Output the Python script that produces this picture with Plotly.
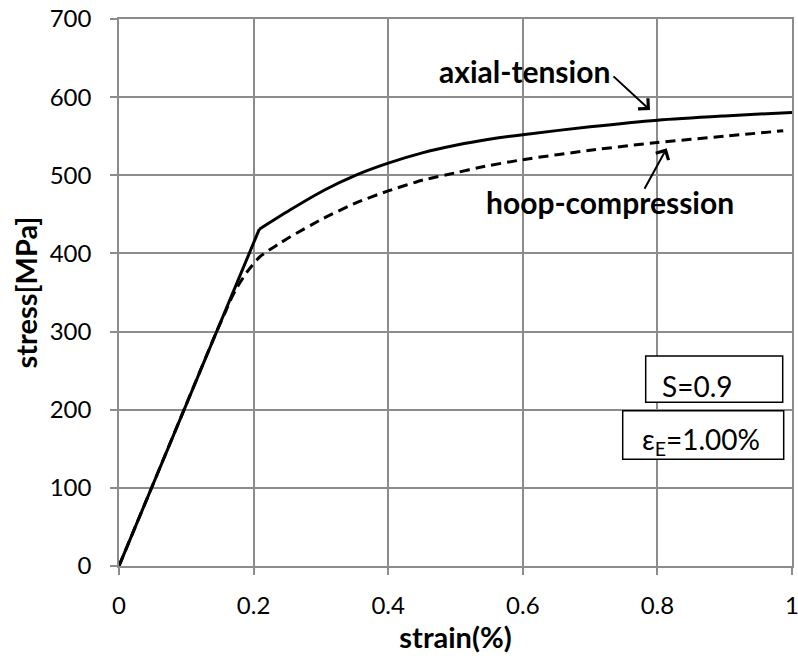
import plotly.graph_objects as go

# ---- data ----
axial_strain = [0, 0.10, 0.2085, 0.254, 0.304, 0.353, 0.40, 0.452, 0.502, 0.55, 0.60, 0.70, 0.80, 0.90, 1.00]
axial_stress = [0, 207, 431, 455.5, 480.5, 500.5, 515.5, 529, 538.7, 546, 552, 562, 570.5, 576, 580.5]
axial_knee = 2  # index of the yield point (end of the elastic part)

hoop_strain = [0, 0.10, 0.145, 0.158, 0.165, 0.175, 0.19, 0.2095, 0.239, 0.254, 0.304, 0.353, 0.40,
               0.452, 0.502, 0.535, 0.60, 0.70, 0.80, 0.90, 0.987]
hoop_stress = [0, 207, 300, 325, 339, 356, 376, 396, 413, 421, 445, 465, 480,
               494, 503.5, 510, 520, 532, 542, 550, 557]

x_ticks = [0, 0.2, 0.4, 0.6, 0.8, 1.0]
x_tick_labels = ["0", "0.2", "0.4", "0.6", "0.8", "1"]
y_ticks = [0, 100, 200, 300, 400, 500, 600, 700]
y_tick_labels = ["0", "100", "200", "300", "400", "500", "600", "700"]

FONT = "Lato"
GRID = "#8c8c8c"

fig = go.Figure()
# axial-tension: elastic part (straight) + plastic part (smooth)
fig.add_trace(go.Scatter(x=axial_strain[:axial_knee + 1], y=axial_stress[:axial_knee + 1],
                         mode="lines", line=dict(color="black", width=3),
                         name="axial-tension", showlegend=False))
fig.add_trace(go.Scatter(x=axial_strain[axial_knee:], y=axial_stress[axial_knee:],
                         mode="lines",
                         line=dict(color="black", width=3, shape="spline", smoothing=0.8),
                         name="axial-tension", showlegend=False))
fig.add_trace(go.Scatter(x=hoop_strain, y=hoop_stress, mode="lines",
                         line=dict(color="black", width=3, dash="10px,6px",
                                   shape="spline", smoothing=0.6),
                         name="hoop-compression", showlegend=False))

axis_common = dict(showgrid=True, gridcolor=GRID, gridwidth=1.5,
                   showline=True, linecolor=GRID, linewidth=1.5, mirror=True,
                   ticks="outside", ticklen=7, tickcolor=GRID, tickwidth=1.5,
                   zeroline=False, automargin=False, ticklabeloverflow="allow",
                   tickfont=dict(family=FONT, size=24, color="black"))

fig.update_layout(
    width=798, height=659,
    margin=dict(l=119, r=6, t=19, b=93),
    paper_bgcolor="white", plot_bgcolor="white",
    xaxis=dict(range=[0, 1], tickvals=x_ticks, ticktext=x_tick_labels,
               ticklabelstandoff=10,
               title=dict(text="<b>strain(%)</b>", font=dict(family=FONT, size=29, color="black"),
                          standoff=4),
               **axis_common),
    yaxis=dict(range=[0, 700], tickvals=y_ticks, ticktext=y_tick_labels,
               ticklabelstandoff=14,
               title=dict(text="<b>stress[MPa]</b>", font=dict(family=FONT, size=29, color="black"),
                          standoff=4),
               **axis_common),
)

def px_x(p):
    return (p - 119) / 673

def px_y(p):
    return (566 - p) / 547

# text labels
fig.add_annotation(x=px_x(524.5), y=px_y(71), xref="paper", yref="paper",
                   xanchor="center", yanchor="middle",
                   text="<b>axial-tension</b>", showarrow=False,
                   font=dict(family=FONT, size=30, color="black"))
fig.add_annotation(x=px_x(610), y=px_y(202), xref="paper", yref="paper",
                   xanchor="center", yanchor="middle",
                   text="<b>hoop-compression</b>", showarrow=False,
                   font=dict(family=FONT, size=30, color="black"))

# arrows
fig.add_annotation(x=px_x(650), y=px_y(110), xref="paper", yref="paper",
                   text="", showarrow=True, ax=-38, ay=-35, arrowhead=4,
                   arrowsize=1.4, arrowwidth=2, arrowcolor="black")
fig.add_annotation(x=px_x(666.7), y=px_y(148.3), xref="paper", yref="paper",
                   text="", showarrow=True, ax=-23, ay=42, arrowhead=4,
                   arrowsize=1.4, arrowwidth=2, arrowcolor="black")

# boxes
fig.add_shape(type="rect", xref="paper", yref="paper",
              x0=px_x(645.7), x1=px_x(782.7), y0=px_y(402.3), y1=px_y(356),
              line=dict(color="black", width=1.5), fillcolor="white", layer="above")
fig.add_shape(type="rect", xref="paper", yref="paper",
              x0=px_x(622.7), x1=px_x(783.7), y0=px_y(459.3), y1=px_y(410.7),
              line=dict(color="black", width=1.5), fillcolor="white", layer="above")
fig.add_annotation(x=px_x(697), y=px_y(386), xref="paper", yref="paper",
                   xanchor="center", yanchor="middle",
                   text="S=0.9", showarrow=False,
                   font=dict(family=FONT, size=28, color="black"))
fig.add_annotation(x=px_x(701), y=px_y(441), xref="paper", yref="paper",
                   xanchor="center", yanchor="middle",
                   text="ε<sub>E</sub>=1.00%", showarrow=False,
                   font=dict(family=FONT, size=28, color="black"))

fig.write_html("out.html")
